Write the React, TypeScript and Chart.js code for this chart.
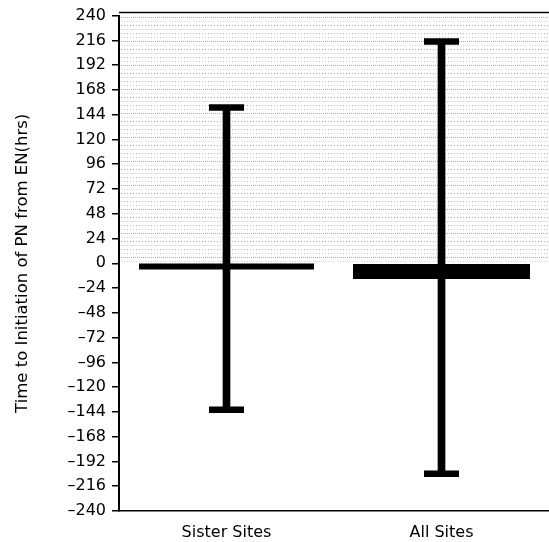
import React, { useEffect, useRef } from "react";
import { Chart, registerables } from "chart.js";

Chart.register(...registerables);

const categories = ["Sister Sites", "All Sites"];
const meanValues = [-3, -8];
const upperValues = [151, 215];
const lowerValues = [-142, -204];
const meanThickness = [6, 15];
const meanHalfWidth = [87.5, 88.5];
const yTicksMin = -240;
const yTicksMax = 240;
const yTickStep = 24;
const yTitle = "Time to Initiation of PN from EN(hrs)";

const hatchPlugin = {
  id: "hatch",
  beforeDatasetsDraw(chart: any) {
    const { ctx, chartArea, scales } = chart;
    const y = scales.y;
    const top = y.getPixelForValue(yTicksMax) - 2;
    const bottom = y.getPixelForValue(0) - 2;
    ctx.save();
    ctx.lineWidth = 1;
    let i = 0;
    for (let py = top + 3; py < bottom; py += 4) {
      ctx.setLineDash(i % 3 === 0 ? [1, 1] : [1, 2]);
      ctx.strokeStyle = i % 2 === 0 ? "rgba(90,90,90,0.5)" : "rgba(120,120,120,0.35)";
      ctx.beginPath();
      ctx.moveTo(chartArea.left + 2, Math.round(py) + 0.5);
      ctx.lineTo(chartArea.right, Math.round(py) + 0.5);
      ctx.stroke();
      i++;
    }
    ctx.setLineDash([]);
    ctx.strokeStyle = "#000";
    ctx.lineWidth = 1.5;
    ctx.beginPath();
    ctx.moveTo(chartArea.left, chartArea.top - 3);
    ctx.lineTo(chartArea.right, chartArea.top - 3);
    ctx.stroke();
    ctx.restore();
  },
};

export default function App() {
  const ref = useRef<HTMLCanvasElement | null>(null);
  useEffect(() => {
    if (!ref.current) return;
    Chart.defaults.font.family = "'DejaVu Sans', sans-serif";
    Chart.defaults.color = "#000";
    const chart = new Chart(ref.current, {
      type: "bar",
      data: {
        labels: categories,
        datasets: [
          {
            type: "bar",
            data: lowerValues.map((lo, i) => [lo, upperValues[i]]) as any,
            backgroundColor: "#000",
            borderWidth: 0,
            barThickness: 7,
            order: 3,
          } as any,
          {
            type: "line",
            data: upperValues,
            showLine: false,
            pointStyle: "line",
            pointRadius: 17.5,
            pointBorderWidth: 6.5,
            pointBorderColor: "#000",
            clip: false,
            order: 1,
          },
          {
            type: "line",
            data: lowerValues,
            showLine: false,
            pointStyle: "line",
            pointRadius: 17.5,
            pointBorderWidth: 6.5,
            pointBorderColor: "#000",
            clip: false,
            order: 1,
          },
          {
            type: "line",
            data: meanValues,
            showLine: false,
            pointStyle: "line",
            pointRadius: meanHalfWidth,
            pointBorderWidth: meanThickness,
            pointBorderColor: "#000",
            clip: false,
            order: 0,
          },
        ],
      },
      options: {
        animation: false,
        responsive: false,
        layout: { autoPadding: false, padding: { top: 15.6, left: 0, right: 0, bottom: 0 } },
        plugins: { legend: { display: false }, tooltip: { enabled: false } },
        events: [],
        scales: {
          x: {
            grid: { display: false, drawTicks: false },
            border: { display: true, color: "#000", width: 1.5 },
            ticks: { font: { size: 16 }, color: "#000", padding: 12 },
            afterFit(scale: any) {
              scale.height = 31;
              scale.paddingLeft = 0;
              scale.paddingRight = 0;
            },
          },
          y: {
            min: yTicksMin,
            max: yTicksMax,
            ticks: {
              stepSize: yTickStep,
              autoSkip: false,
              font: { size: 16 },
              color: "#000",
              padding: 6,
              callback: (v: any) => (Number(v) < 0 ? "\u2013" + Math.abs(Number(v)) : String(v)),
            },
            grid: {
              drawOnChartArea: false,
              drawTicks: true,
              tickLength: 7,
              tickColor: "#000",
              lineWidth: 1.5,
            },
            border: { display: true, color: "#000", width: 2 },
            title: {
              display: true,
              text: yTitle,
              font: { size: 16.5 },
              color: "#000",
              padding: { top: 13, bottom: 0 },
            },
            afterFit(scale: any) {
              scale.width = 119;
              scale.paddingTop = 0;
              scale.paddingBottom = 0;
            },
          },
        },
      } as any,
      plugins: [hatchPlugin],
    });
    return () => chart.destroy();
  }, []);
  return (
    <div style={{ position: "absolute", left: 0, top: 0, width: 549, height: 542 }}>
      <canvas ref={ref} width={549} height={542} style={{ display: "block", width: 549, height: 542 }} />
    </div>
  );
}
